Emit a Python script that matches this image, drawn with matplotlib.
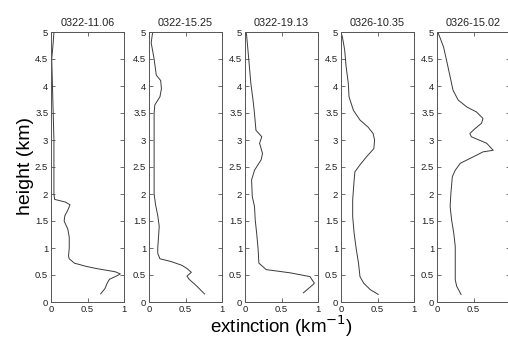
import matplotlib
matplotlib.use("Agg")
from matplotlib import pyplot as plt

plt.rcParams['font.family'] = ['Liberation Sans', 'DejaVu Sans']

titles = ["0322-11.06", "0322-15.25", "0322-19.13", "0326-10.35", "0326-15.02"]

# profiles: height (km) and extinction (km^-1)
h1 = [0.15, 0.25, 0.35, 0.42, 0.47, 0.52, 0.56, 0.62, 0.66, 0.72, 0.80, 0.85, 1.0, 1.2,
      1.35, 1.5, 1.6, 1.7, 1.8, 1.85, 1.9, 2.0, 2.5, 3.0, 3.5, 4.0, 4.5, 4.8, 5.0]
e1 = [0.68, 0.74, 0.77, 0.80, 0.88, 0.95, 0.88, 0.62, 0.48, 0.32, 0.25, 0.24, 0.25, 0.25,
      0.23, 0.18, 0.19, 0.23, 0.26, 0.20, 0.05, 0.04, 0.04, 0.04, 0.03, 0.02, 0.01, 0.03, 0.04]

h2 = [0.15, 0.30, 0.42, 0.48, 0.55, 0.62, 0.68, 0.75, 0.80, 0.90, 1.0, 1.2, 1.4, 1.6,
      1.8, 2.0, 2.5, 3.0, 3.5, 3.65, 3.8, 3.95, 4.1, 4.2, 4.5, 4.8, 5.0]
e2 = [0.76, 0.65, 0.55, 0.52, 0.58, 0.52, 0.45, 0.30, 0.15, 0.12, 0.12, 0.13, 0.14, 0.12,
      0.09, 0.07, 0.07, 0.07, 0.07, 0.08, 0.15, 0.17, 0.16, 0.10, 0.07, 0.03, 0.05]

h3 = [0.17, 0.32, 0.35, 0.47, 0.54, 0.60, 0.72, 0.97, 1.27, 1.52, 1.77, 1.95, 2.26, 2.44,
      2.63, 2.75, 2.94, 3.06, 3.18, 3.49, 3.74, 4.05, 4.36, 4.67, 4.97]
e3 = [0.80, 0.93, 0.95, 0.89, 0.62, 0.29, 0.19, 0.18, 0.16, 0.14, 0.13, 0.10, 0.09, 0.13,
      0.22, 0.24, 0.20, 0.23, 0.15, 0.13, 0.11, 0.08, 0.06, 0.04, 0.02]

h4 = [0.14, 0.23, 0.35, 0.47, 0.72, 0.97, 1.27, 1.58, 1.89, 2.26, 2.41, 2.54, 2.69, 2.84,
      3.0, 3.12, 3.24, 3.37, 3.55, 3.8, 4.05, 4.36, 4.67, 4.9, 5.0]
e4 = [0.51, 0.40, 0.31, 0.26, 0.24, 0.21, 0.18, 0.16, 0.16, 0.18, 0.19, 0.26, 0.35, 0.45,
      0.46, 0.44, 0.37, 0.26, 0.17, 0.11, 0.10, 0.07, 0.05, 0.02, 0.0]

h5 = [0.14, 0.29, 0.41, 0.72, 1.03, 1.27, 1.52, 1.77, 2.01, 2.32, 2.44, 2.57, 2.69, 2.78,
      2.81, 2.94, 3.06, 3.12, 3.21, 3.31, 3.40, 3.52, 3.61, 3.74, 3.92, 4.17, 4.48, 4.72,
      4.9, 5.0]
e5 = [0.33, 0.27, 0.25, 0.25, 0.25, 0.23, 0.20, 0.18, 0.19, 0.21, 0.25, 0.32, 0.50, 0.63,
      0.77, 0.68, 0.47, 0.45, 0.52, 0.61, 0.63, 0.54, 0.41, 0.29, 0.22, 0.18, 0.13, 0.09,
      0.04, 0.01]

heights = [h1, h2, h3, h4, h5]
ext = [e1, e2, e3, e4, e5]

W, H = 508, 340
fig = plt.figure(figsize=(W / 100, H / 100), dpi=100)

lefts = [51, 149, 245, 341, 437]
for i in range(5):
    ax = fig.add_axes([lefts[i] / W, 38 / H, 73 / W, 270 / H])
    ax.plot(ext[i], heights[i], color='#3a3a3a', lw=0.7)
    ax.set_xlim(0, 1)
    ax.set_ylim(0, 5)
    ax.set_xticks([0, 0.5, 1])
    if i < 4:
        ax.set_xticklabels(["0", "0.5", "1"])
    else:
        # last panel's "1" falls off the picture in the original
        ax.set_xticklabels(["0", "0.5", ""])
    ax.set_yticks([0, 0.5, 1, 1.5, 2, 2.5, 3, 3.5, 4, 4.5, 5])
    ax.set_yticklabels(["0", "0.5", "1", "1.5", "2", "2.5", "3", "3.5", "4", "4.5", "5"])
    ax.tick_params(direction='in', length=3, width=0.6, top=True, right=True,
                   labelsize=6.8, pad=2, color='#555555', labelcolor='#222222')
    for s in ax.spines.values():
        s.set_color('#555555')
        s.set_linewidth(0.7)
    ax.set_title(titles[i], fontsize=7.8, pad=4, color='#222222')

fig.text(25 / W, 1 - 166 / H, "height (km)", rotation=90, fontsize=14,
         ha='center', va='center')
fig.text(281 / W, 1 - 326 / H, "extinction (km$^{-1}$)", fontsize=13.5,
         ha='center', va='center')

fig.savefig("out.png", dpi=100)
